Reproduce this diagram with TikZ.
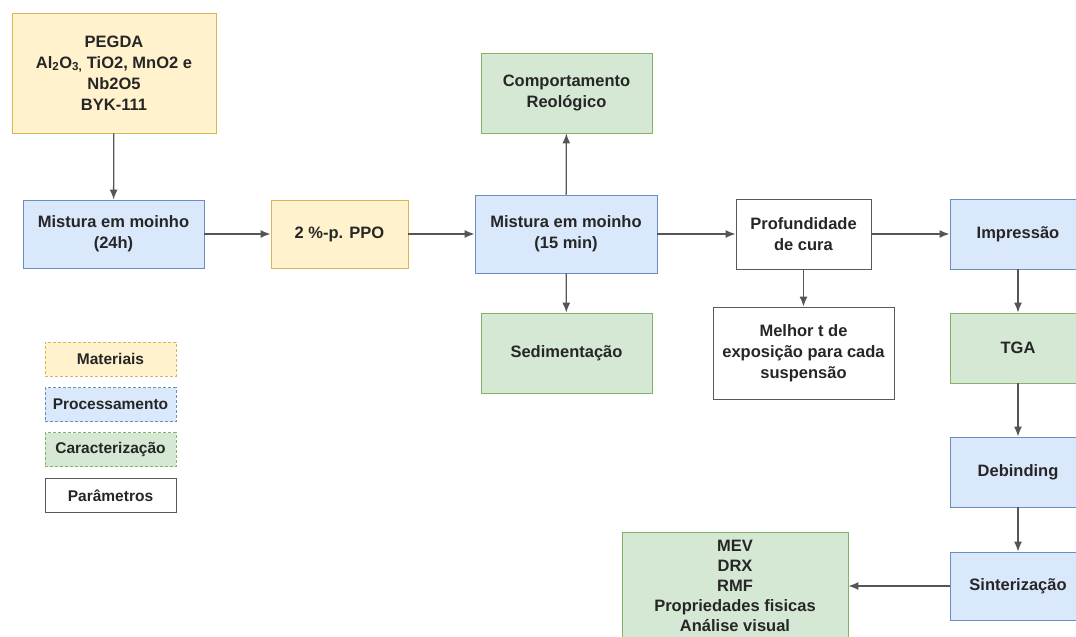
\documentclass[tikz,border=0pt]{standalone}
\usepackage{fontspec}
\setmainfont{Liberation Sans}
\usepackage{tikz}
\usetikzlibrary{arrows,arrows.meta}
\usetikzlibrary{positioning}

\definecolor{matfill}{HTML}{FFF2CC}
\definecolor{matdraw}{HTML}{D6B656}
\definecolor{procfill}{HTML}{DAE8FC}
\definecolor{procdraw}{HTML}{6C8EBF}
\definecolor{carfill}{HTML}{D5E8D4}
\definecolor{cardraw}{HTML}{82B366}
\definecolor{linegray}{HTML}{555555}

\tikzset{
	box/.style={draw, rectangle, inner sep=0pt, align=center, text=black!85,
		font=\fontsize{16.5}{21}\selectfont\bfseries, line width=0.9pt},
	material/.style={box, fill=matfill, draw=matdraw},
	processo/.style={box, fill=procfill, draw=procdraw},
	caract/.style={box, fill=carfill, draw=cardraw},
	param/.style={box, fill=white, draw=black!65},
	legenda/.style={font=\fontsize{15.5}{18}\selectfont\bfseries,
		minimum width=131pt, minimum height=34pt},
}
\tikzstyle{line} = [draw=linegray, line width=1.3pt, -{Latex[length=10pt,width=8pt]}]

\begin{document}
\begin{tikzpicture}[x=1pt, y=-1pt]
	\useasboundingbox (0,0) rectangle (1076,637);
	\clip (0,0) rectangle (1076,637);
	% materiais e mistura
	\node[material, minimum width=204pt, minimum height=120pt] (pegda) at (114,73)
		{PEGDA\\Al\textsubscript{2}O\textsubscript{3,} TiO2, MnO2 e\\Nb2O5\\BYK-111};
	\node[processo, minimum width=181pt, minimum height=68pt] (mix24) at (113.5,234)
		{Mistura em moinho\\(24h)};
	\node[material, minimum width=137pt, minimum height=68pt] (ppo) at (339.5,234)
		{2 \%-p. PPO};
	\node[processo, minimum width=182pt, minimum height=78pt] (mix15) at (566,234)
		{Mistura em moinho\\(15 min)};
	\node[caract, minimum width=171pt, minimum height=80pt] (reo) at (566.5,93)
		{Comportamento\\Reológico};
	\node[caract, minimum width=171pt, minimum height=80pt] (sed) at (566.5,353)
		{Sedimentação};
	% parametros de cura
	\node[param, minimum width=135pt, minimum height=70pt] (cura) at (803.5,234)
		{Profundidade\\de cura};
	\node[param, minimum width=181pt, minimum height=92pt] (melhor) at (803.5,353)
		{Melhor t de\\exposição para cada\\suspensão};
	% impressao e pos-processamento
	\node[processo, minimum width=136pt, minimum height=70pt] (impr) at (1018,234)
		{Impressão};
	\node[caract, minimum width=136pt, minimum height=70pt] (tga) at (1018,348)
		{TGA};
	\node[processo, minimum width=136pt, minimum height=70pt] (deb) at (1018,472)
		{Debinding};
	\node[processo, minimum width=136pt, minimum height=68pt] (sint) at (1018,586)
		{Sinterização};
	\node[caract, minimum width=226pt, minimum height=108pt, font=\fontsize{16.5}{20}\selectfont\bfseries] (carac) at (735,586)
		{MEV\\DRX\\RMF\\Propriedades fisicas\\Análise visual};
	% legenda
	\node[material, legenda, densely dashed] (legmat) at (110.5,359) {Materiais};
	\node[processo, legenda, densely dashed] (legproc) at (110.5,404.5) {Processamento};
	\node[caract, legenda, densely dashed] (legcar) at (110.5,449.5) {Caracterização};
	\node[param, legenda] (legpar) at (110.5,495.5) {Parâmetros};

	\draw[line] (pegda) -- (mix24);
	\draw[line] (mix24) -- (ppo);
	\draw[line] (ppo) -- (mix15);
	\draw[line] (mix15) -- (reo);
	\draw[line] (mix15) -- (sed);
	\draw[line] (mix15) -- (cura);
	\draw[line] (cura) -- (melhor);
	\draw[line] (cura) -- (impr);
	\draw[line] (impr) -- (tga);
	\draw[line] (tga) -- (deb);
	\draw[line] (deb) -- (sint);
	\draw[line] (sint) -- (carac);
\end{tikzpicture}
\end{document}
